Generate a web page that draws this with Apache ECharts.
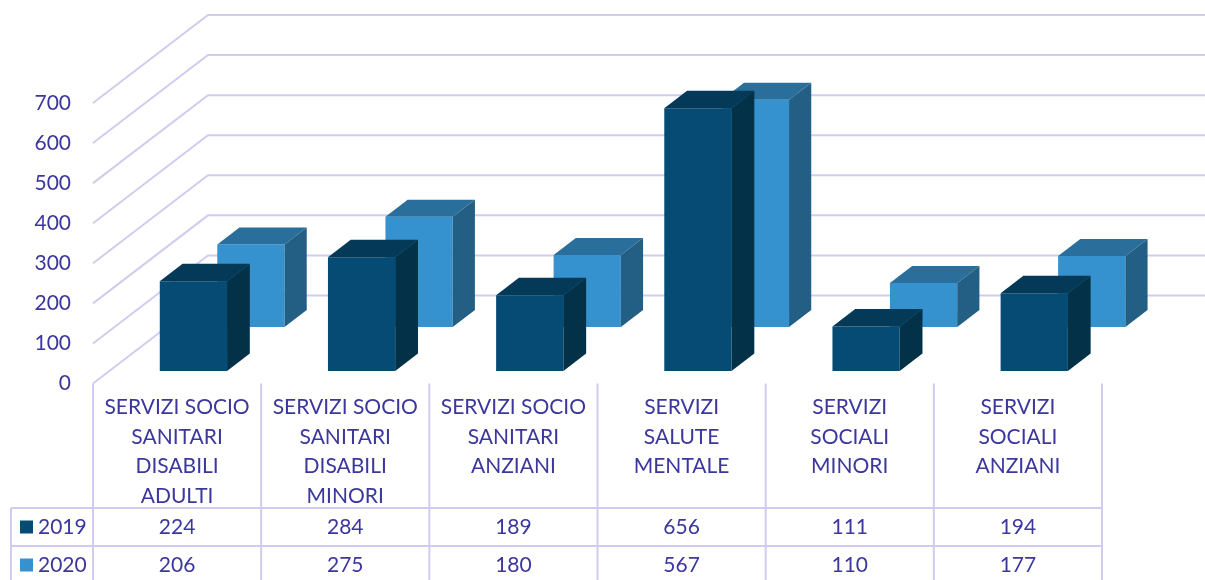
<!DOCTYPE html>
<html>
<head>
<meta charset="utf-8">
<script src="https://cdn.jsdelivr.net/npm/echarts@6/dist/echarts.min.js"></script>
<style>
  html, body { margin: 0; padding: 0; background: #fff; }
  #chart { width: 1205px; height: 580px; }
</style>
</head>
<body>
<div id="chart"></div>
<script>
const categories = [
  'SERVIZI SOCIO\nSANITARI\nDISABILI\nADULTI',
  'SERVIZI SOCIO\nSANITARI\nDISABILI\nMINORI',
  'SERVIZI SOCIO\nSANITARI\nANZIANI',
  'SERVIZI\nSALUTE\nMENTALE',
  'SERVIZI\nSOCIALI\nMINORI',
  'SERVIZI\nSOCIALI\nANZIANI'
]
const values2019 = [224, 284, 189, 656, 111, 194]
const values2020 = [206, 275, 180, 567, 110, 177]
const yTicks = [0, 100, 200, 300, 400, 500, 600, 700]

const textColor = '#3B379C'
const lineColor = '#D0CCEE'
const font = 'Lato, "Open Sans", sans-serif'
const DX = 115, DY = -88   // depth of the 3D floor / walls

// a 3D column: front face, top face, right side face
const boxRenderer = (front, top, side, f0, f1) => (params, api) => {
  const i = api.value(0), v = api.value(1)
  const base = api.coord([i, 0])
  const peak = api.coord([i, v])
  const w = api.size([1, 0])[0] * 0.4
  const x0 = base[0] - w / 2, x1 = base[0] + w / 2
  const ax = f0 * DX, ay = f0 * DY, bx = f1 * DX, by = f1 * DY
  const yt = peak[1], yb = base[1]
  return {
    type: 'group',
    children: [
      { type: 'polygon', shape: { points: [[x0 + ax, yt + ay], [x1 + ax, yt + ay], [x1 + ax, yb + ay], [x0 + ax, yb + ay]] }, style: { fill: front } },
      { type: 'polygon', shape: { points: [[x0 + ax, yt + ay], [x1 + ax, yt + ay], [x1 + bx, yt + by], [x0 + bx, yt + by]] }, style: { fill: top } },
      { type: 'polygon', shape: { points: [[x1 + ax, yt + ay], [x1 + bx, yt + by], [x1 + bx, yb + by], [x1 + ax, yb + ay]] }, style: { fill: side } }
    ]
  }
}

const chart = echarts.init(document.getElementById('chart'))
chart.setOption({
  animation: false,
  textStyle: { fontFamily: font },
  grid: { left: 93, right: 103, top: 103, bottom: 196.5 },
  legend: {
    data: ['2019', '2020'],
    orient: 'vertical', left: 20, top: 514.5, padding: 0,
    icon: 'rect', itemWidth: 13, itemHeight: 13, itemGap: 13,
    selectedMode: false,
    textStyle: { fontSize: 21, color: textColor, fontFamily: font, lineHeight: 25 }
  },
  xAxis: {
    type: 'category',
    data: categories,
    axisLine: { show: false },
    axisTick: { show: false },
    axisLabel: { interval: 0, fontSize: 21, lineHeight: 29.5, color: textColor, fontFamily: font, margin: 9 }
  },
  yAxis: {
    type: 'value',
    min: 0, max: 700, interval: 100,
    axisLine: { show: false },
    axisTick: { show: false },
    splitLine: { show: false },
    axisLabel: { fontSize: 21, color: textColor, fontFamily: font, margin: 22 }
  },
  series: [
    {
      // 3D gridlines: diagonal side wall + back wall
      type: 'custom', name: 'grid', silent: true,
      data: yTicks.map(t => [0, t]),
      renderItem: (params, api) => {
        const cs = params.coordSys
        const y = api.coord([0, api.value(1)])[1]
        return {
          type: 'polyline',
          shape: { points: [[cs.x, y], [cs.x + DX, y + DY], [cs.x + cs.width + DX, y + DY]] },
          style: { stroke: lineColor, lineWidth: 2, fill: null }
        }
      }
    },
    {
      // data table under the chart
      type: 'custom', name: 'table', silent: true,
      data: categories.map((c, i) => [i, values2019[i], values2020[i]]),
      renderItem: (params, api) => {
        const cs = params.coordSys
        const i = api.value(0)
        const x = api.coord([i, 0])[0]
        const half = api.size([1, 0])[0] / 2
        const yTop = cs.y + cs.height
        const ln = (x1, y1, x2, y2) => ({ type: 'line', shape: { x1, y1, x2, y2 }, style: { stroke: lineColor, lineWidth: 2 } })
        const txt = (t, y) => ({ type: 'text', style: { text: String(t), x, y, align: 'center', verticalAlign: 'middle', fontSize: 21, fontFamily: font, fill: textColor } })
        const children = [ln(x - half, yTop, x - half, 580), txt(api.value(1), 527), txt(api.value(2), 565)]
        if (i === categories.length - 1) children.push(ln(x + half, yTop, x + half, 580))
        if (i === 0) {
          children.push(ln(11, 508, cs.x + cs.width, 508))
          children.push(ln(11, 546, cs.x + cs.width, 546))
          children.push(ln(11, 508, 11, 580))
        }
        return { type: 'group', children }
      }
    },
    {
      type: 'custom', name: '2020',
      itemStyle: { color: '#3592CF' },
      data: values2020.map((v, i) => [i, v]),
      renderItem: boxRenderer('#3592CF', '#2A6F9B', '#235F85', 0.642, 0.835)
    },
    {
      type: 'custom', name: '2019',
      itemStyle: { color: '#064B73' },
      data: values2019.map((v, i) => [i, v]),
      renderItem: boxRenderer('#064B73', '#043A57', '#033248', 0.142, 0.34)
    }
  ]
})
</script>
</body>
</html>
